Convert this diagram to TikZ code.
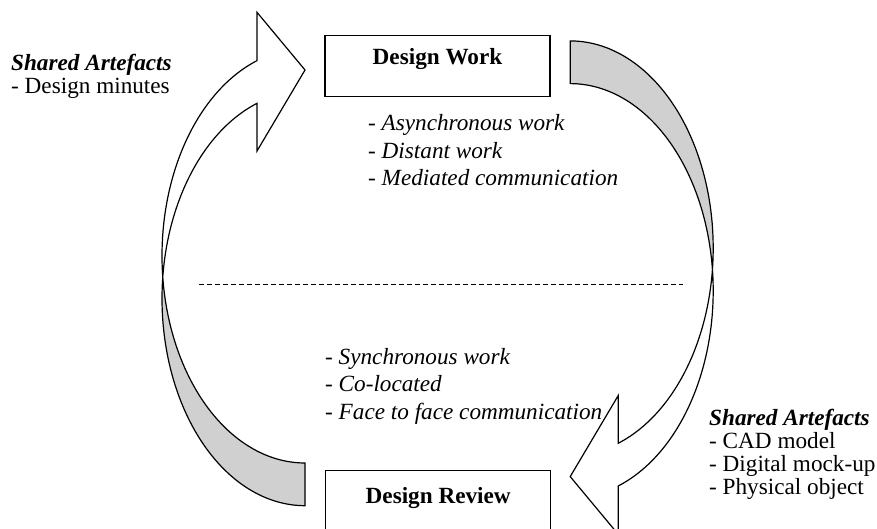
\documentclass[tikz,border=0pt]{standalone}
\usepackage{fontspec}
\setmainfont{Liberation Serif}
\definecolor{backface}{RGB}{208,208,208}
\begin{document}
\begin{tikzpicture}[x=1pt,y=-1pt,
  outline/.style={draw=black,line width=1.2pt,line join=miter},
  stagebox/.style={draw=black,line width=1.2pt,minimum width=225pt,minimum height=61pt,inner sep=0pt},
  txt/.style={inner sep=0pt,anchor=base west,font=\fontsize{23.2}{27}\selectfont},
  boxtxt/.style={inner sep=0pt,anchor=base,font=\fontsize{23.2}{27}\selectfont\bfseries},
  note/.style={txt,font=\fontsize{23.2}{27}\selectfont\itshape},
  head/.style={txt,font=\fontsize{23.2}{27}\selectfont\bfseries\itshape},
  sep/.style={draw=black,line width=1pt,dash pattern=on 4.5pt off 3.5pt}]
\useasboundingbox (0,0) rectangle (877,529);
\clip (0,0) rectangle (877,529);

% curved arrow: back face (grey) then front face with the head
\newcommand{\curvedarrow}{%
  \path[outline,fill=backface]
    plot[domain=185.9:90,samples=60,variable=\t] ({305+143*cos(\t)},{298.5+207.2*sin(\t)})
    -- plot[domain=90:174.1,samples=60,variable=\t] ({305+143*cos(\t)},{255.8+207.2*sin(\t)})
    -- cycle;
  \path[outline,fill=white]
    plot[domain=174.1:250.4,samples=60,variable=\t] ({305+143*cos(\t)},{255.8+207.2*sin(\t)})
    -- (257,12.3) -- (305,70) -- (257,151)
    -- plot[domain=250.4:185.9,samples=60,variable=\t] ({305+143*cos(\t)},{298.5+207.2*sin(\t)})
    -- cycle;}

% left arrow: review -> work
\curvedarrow
% right arrow: work -> review
\begin{scope}[rotate around={180:(437.6,273.3)}]
  \curvedarrow
\end{scope}

% the two stages
\node[stagebox] (work) at (437.5,66.2) {};
\node[boxtxt] (workname) at (437.5,65) {Design Work};
\node[stagebox] (review) at (438.2,501.2) {};
\node[boxtxt] (reviewname) at (438.2,503) {Design Review};

% separator between the two modes of work
\coordinate (sepL) at (199,284);
\coordinate (sepR) at (683,284);
\draw[sep] (sepL) -- (sepR);

% characteristics of design work
\node[note] (a1) at (368,131) {- Asynchronous work};
\node[note] (a2) at (368,158.5) {- Distant work};
\node[note] (a3) at (368,186) {- Mediated communication};

% characteristics of design review
\node[note] (s1) at (325,364) {- Synchronous work};
\node[note] (s2) at (325,391.5) {- Co-located};
\node[note] (s3) at (325,419) {- Face to face communication};

% shared artefacts
\node[head] (artL) at (11,71) {Shared Artefacts};
\node[txt] (artL1) at (11,94) {- Design minutes};

\node[head] (artR) at (709,425) {Shared Artefacts};
\node[txt] (artR1) at (709,448) {- CAD model};
\node[txt] (artR2) at (709,471) {- Digital mock-up};
\node[txt] (artR3) at (709,494) {- Physical object};
\end{tikzpicture}
\end{document}
